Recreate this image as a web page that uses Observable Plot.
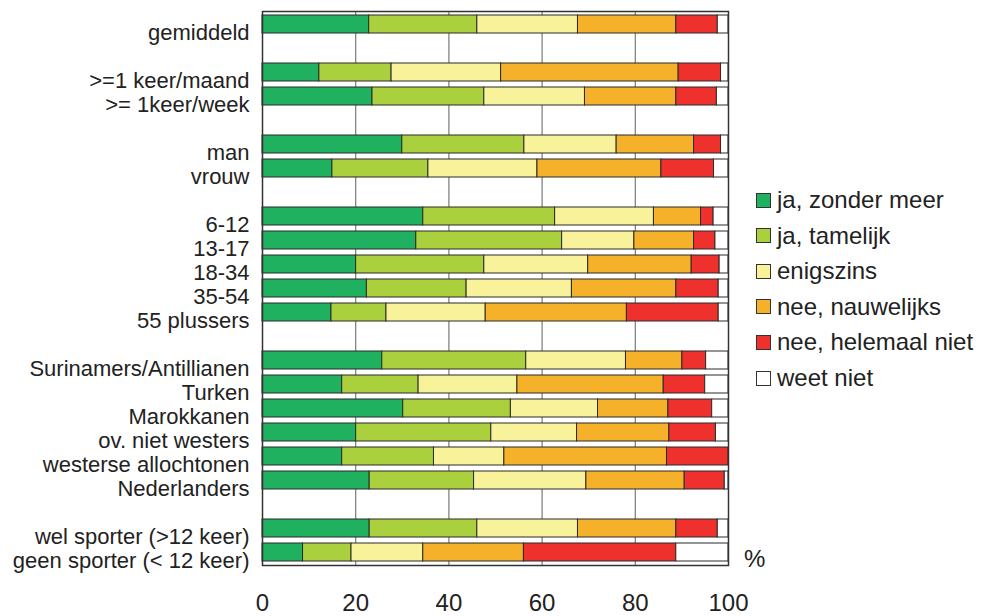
<!DOCTYPE html>
<html>
<head>
<meta charset="utf-8">
<script src="https://cdn.jsdelivr.net/npm/d3@7"></script>
<script src="https://cdn.jsdelivr.net/npm/@observablehq/plot@0.6"></script>
<style>
  html, body { margin: 0; padding: 0; background: #fff; }
  #wrap { position: relative; width: 984px; height: 616px; font-family: "Liberation Sans", Arial, sans-serif; color: #222; }
  #chart { position: absolute; left: 0; top: 0; }
  .leg { position: absolute; left: 756px; height: 24px; display: flex; align-items: center; font-size: 24px; white-space: nowrap; }
  .leg .sw { width: 15px; height: 15px; border: 1px solid #333; box-sizing: border-box; margin-right: 6px; }
  #pct { position: absolute; left: 744px; top: 545px; font-size: 24px; }
</style>
</head>
<body>
<div id="wrap">
  <div id="chart"></div>
  <div id="legend"></div>
  <div id="pct">%</div>
</div>
<script>
// Row groups (top to bottom), gaps between groups
const groups = [
  ["gemiddeld"],
  [">=1 keer/maand", ">= 1keer/week"],
  ["man", "vrouw"],
  ["6-12", "13-17", "18-34", "35-54", "55 plussers"],
  ["Surinamers/Antillianen", "Turken", "Marokkanen", "ov. niet westers", "westerse allochtonen", "Nederlanders"],
  ["wel sporter (>12 keer)", "geen sporter (< 12 keer)"]
];

const answers = ["ja, zonder meer", "ja, tamelijk", "enigszins", "nee, nauwelijks", "nee, helemaal niet", "weet niet"];
const colors = ["#1fb15f", "#aad03e", "#f8f39b", "#f5b129", "#ee312d", "#ffffff"];

// percentages per answer, in the order of the rows
const jaZonderMeer    = [22.9, 12.2, 23.6, 30.0, 15.0, 34.5, 33.0, 20.1, 22.4, 14.8, 25.7, 17.1, 30.2, 20.1, 17.1, 23.0, 23.0, 8.7];
const jaTamelijk      = [23.2, 15.5, 24.0, 26.2, 20.6, 28.3, 31.3, 27.5, 21.4, 11.8, 30.9, 16.4, 23.1, 29.0, 19.7, 22.4, 23.1, 10.4];
const enigszins       = [21.6, 23.5, 21.6, 19.8, 23.4, 21.2, 15.5, 22.3, 22.6, 21.3, 21.4, 21.2, 18.7, 18.4, 15.1, 24.1, 21.6, 15.4];
const neeNauwelijks   = [21.1, 38.1, 19.6, 16.6, 26.6, 10.1, 12.8, 22.2, 22.4, 30.3, 12.1, 31.4, 15.1, 19.8, 34.9, 21.1, 21.1, 21.6];
const neeHelemaalNiet = [8.9,  9.1,  8.7,  5.8,  11.3, 2.7,  4.6,  6.0,  9.1,  19.7, 5.1,  8.9,  9.4,  10.0, 13.2, 8.6,  8.9,  32.7];
const weetNiet        = [2.3,  1.6,  2.5,  1.6,  3.1,  3.2,  2.8,  1.9,  2.1,  2.1,  4.8,  5.0,  3.5,  2.7,  0.0,  0.8,  2.3,  11.2];

const xTicks = [0, 20, 40, 60, 80, 100];

// build domain with gap rows
const rows = groups.flat();
const domain = [];
groups.forEach((g, i) => {
  if (i > 0) domain.push("gap" + i);
  domain.push(...g);
});

const series = [jaZonderMeer, jaTamelijk, enigszins, neeNauwelijks, neeHelemaalNiet, weetNiet];
const data = [];
rows.forEach((r, i) => {
  answers.forEach((a, j) => {
    data.push({row: r, answer: a, value: series[j][i]});
  });
});

const chart = Plot.plot({
  width: 984,
  height: 616,
  marginLeft: 262,
  marginRight: 256,
  marginTop: 11,
  marginBottom: 51,
  style: {fontFamily: "'Liberation Sans', Arial, sans-serif", color: "#222", background: "#fff"},
  x: {domain: [0, 100]},
  y: {domain, paddingInner: 0.27, paddingOuter: 0.12},
  color: {domain: answers, range: colors},
  marks: [
    Plot.ruleX(xTicks.slice(1, -1), {stroke: "#7a7a7a", strokeWidth: 1.2}),
    Plot.barX(data, Plot.stackX({
      x: "value", y: "row", fill: "answer", order: null,
      stroke: "#2a2a2a", strokeWidth: 1, inset: 0
    })),
    Plot.frame({stroke: "#333", strokeWidth: 1.5}),
    Plot.axisX({ticks: xTicks, tickSize: 0, tickPadding: 28, fontSize: 24, label: null, tickFormat: d => String(d)}),
    Plot.axisY({ticks: rows, tickSize: 0, tickPadding: 13, fontSize: 22, dy: 8, label: null})
  ]
});
document.getElementById("chart").appendChild(chart);

// legend
const legend = document.getElementById("legend");
answers.forEach((a, i) => {
  const item = document.createElement("div");
  item.className = "leg";
  item.style.top = (188 + i * 35.6) + "px";
  const sw = document.createElement("div");
  sw.className = "sw";
  sw.style.background = colors[i];
  const t = document.createElement("span");
  t.textContent = a;
  item.appendChild(sw);
  item.appendChild(t);
  legend.appendChild(item);
});
</script>
</body>
</html>
